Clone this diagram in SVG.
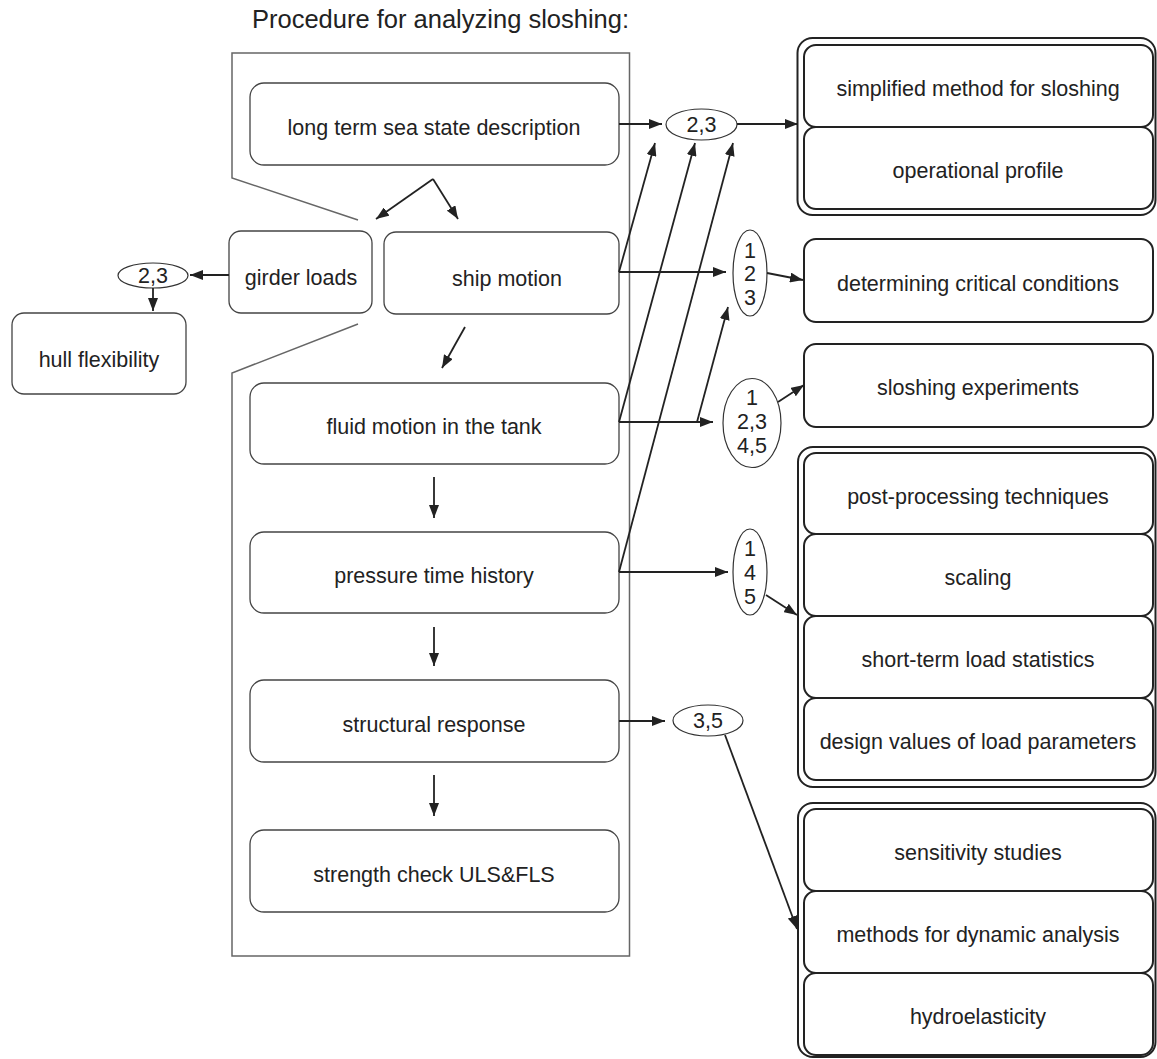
<svg xmlns="http://www.w3.org/2000/svg" width="1157" height="1059" viewBox="0 0 1157 1059">
<style>
text{font-family:"Liberation Sans",Arial,sans-serif;font-size:21.5px;fill:#222;text-anchor:middle}
.lb{fill:#fff;stroke:#444;stroke-width:1.3}
.rb{fill:#fff;stroke:#222;stroke-width:2}
.el{fill:#fff;stroke:#333;stroke-width:1.2}
.cn line{stroke:#222;stroke-width:1.8;marker-end:url(#ah)}
</style>
<defs>
<marker id="ah" markerUnits="userSpaceOnUse" markerWidth="13" markerHeight="10" refX="13" refY="5" orient="auto">
<path d="M0,0 L13,5 L0,10 z" fill="#222"/>
</marker>
</defs>
<rect width="1157" height="1059" fill="#fff"/>
<text x="252" y="28" style="text-anchor:start;font-size:25.5px">Procedure for analyzing sloshing:</text>
<g id="container">
<polyline points="358,220 232,178 232,53 629.5,53 629.5,956 232,956 232,373 358,324" fill="none" stroke="#666" stroke-width="1.5"/>
</g>
<g id="n-longterm"><rect class="lb" x="250" y="83" width="369" height="82" rx="14"/><text x="434" y="135">long term sea state description</text></g>
<g id="n-girder"><rect class="lb" x="229" y="231" width="143" height="82" rx="12"/><text x="301" y="285">girder loads</text></g>
<g id="n-ship"><rect class="lb" x="384" y="232" width="235" height="82" rx="12"/><text x="507" y="286">ship motion</text></g>
<g id="n-hull"><rect class="lb" x="12" y="313" width="174" height="81" rx="12"/><text x="99" y="367">hull flexibility</text></g>
<g id="n-fluid"><rect class="lb" x="250" y="383" width="369" height="81" rx="14"/><text x="434" y="434">fluid motion in the tank</text></g>
<g id="n-pressure"><rect class="lb" x="250" y="532" width="369" height="81" rx="14"/><text x="434" y="583">pressure time history</text></g>
<g id="n-structural"><rect class="lb" x="250" y="680" width="369" height="82" rx="14"/><text x="434" y="732">structural response</text></g>
<g id="n-strength"><rect class="lb" x="250" y="830" width="369" height="82" rx="14"/><text x="434" y="882">strength check ULS&amp;FLS</text></g>

<g id="e-left23"><ellipse class="el" cx="153" cy="275.5" rx="35" ry="12.5"/><text x="153" y="283">2,3</text></g>
<g id="e-top23"><ellipse class="el" cx="701.5" cy="124.5" rx="35.5" ry="15.5"/><text x="701.5" y="132">2,3</text></g>
<g id="e-123"><ellipse class="el" cx="750" cy="273" rx="17" ry="43"/><text x="750" y="258">1</text><text x="750" y="281">2</text><text x="750" y="305">3</text></g>
<g id="e-12345"><ellipse class="el" cx="752" cy="423" rx="29" ry="44.5"/><text x="752" y="405">1</text><text x="752" y="429">2,3</text><text x="752" y="453">4,5</text></g>
<g id="e-145"><ellipse class="el" cx="750" cy="572" rx="17" ry="43"/><text x="750" y="556">1</text><text x="750" y="580">4</text><text x="750" y="604">5</text></g>
<g id="e-35"><ellipse class="el" cx="708" cy="720.5" rx="35" ry="15.5"/><text x="708" y="728">3,5</text></g>

<g id="grp1">
<rect class="rb" x="797.5" y="38" width="358" height="177" rx="15"/>
<g id="n-simplified"><rect class="rb" x="804" y="45" width="349" height="82" rx="12"/><text x="978" y="96">simplified method for sloshing</text></g>
<g id="n-operational"><rect class="rb" x="804" y="127" width="349" height="82" rx="12"/><text x="978" y="178">operational profile</text></g>
</g>
<g id="n-critical"><rect class="rb" x="804" y="239" width="349" height="83" rx="12"/><text x="978" y="291">determining critical conditions</text></g>
<g id="n-experiments"><rect class="rb" x="804" y="344" width="349" height="83" rx="12"/><text x="978" y="395">sloshing experiments</text></g>
<g id="grp2">
<rect class="rb" x="798" y="447" width="357.5" height="340" rx="15"/>
<g id="n-post"><rect class="rb" x="804" y="453" width="349" height="81" rx="12"/><text x="978" y="504">post-processing techniques</text></g>
<g id="n-scaling"><rect class="rb" x="804" y="534" width="349" height="82" rx="12"/><text x="978" y="585">scaling</text></g>
<g id="n-shortterm"><rect class="rb" x="804" y="616" width="349" height="82" rx="12"/><text x="978" y="667">short-term load statistics</text></g>
<g id="n-design"><rect class="rb" x="804" y="698" width="349" height="82" rx="12"/><text x="978" y="749">design values of load parameters</text></g>
</g>
<g id="grp3">
<rect class="rb" x="798" y="803" width="357.5" height="254" rx="15"/>
<g id="n-sensitivity"><rect class="rb" x="804" y="809" width="349" height="82" rx="12"/><text x="978" y="860">sensitivity studies</text></g>
<g id="n-methods"><rect class="rb" x="804" y="891" width="349" height="82" rx="12"/><text x="978" y="942">methods for dynamic analysis</text></g>
<g id="n-hydro"><rect class="rb" x="804" y="973" width="349" height="82" rx="12"/><text x="978" y="1024">hydroelasticity</text></g>
</g>

<g id="connectors" class="cn">
<line x1="433" y1="179" x2="376" y2="219"/>
<line x1="433" y1="179" x2="458" y2="219"/>
<line x1="465" y1="327" x2="442" y2="368"/>
<line x1="434" y1="477" x2="434" y2="518"/>
<line x1="434" y1="627" x2="434" y2="666"/>
<line x1="434" y1="775" x2="434" y2="816"/>
<line x1="229" y1="275" x2="190" y2="275"/>
<line x1="153" y1="288" x2="153" y2="311"/>
<line x1="619" y1="124" x2="662" y2="124"/>
<line x1="737" y1="124" x2="798" y2="124"/>
<line x1="619" y1="272" x2="655" y2="143"/>
<line x1="619" y1="422" x2="695" y2="143"/>
<line x1="619" y1="572" x2="733" y2="143"/>
<line x1="619" y1="272" x2="726" y2="272"/>
<line x1="767" y1="273" x2="803" y2="280"/>
<line x1="619" y1="422" x2="713" y2="422"/>
<line x1="697" y1="422" x2="728" y2="307"/>
<line x1="778" y1="402" x2="804" y2="385"/>
<line x1="619" y1="572" x2="728" y2="572"/>
<line x1="766" y1="595" x2="797" y2="615"/>
<line x1="619" y1="721" x2="665" y2="721"/>
<line x1="725" y1="735" x2="797" y2="929"/>
</g>
</svg>
